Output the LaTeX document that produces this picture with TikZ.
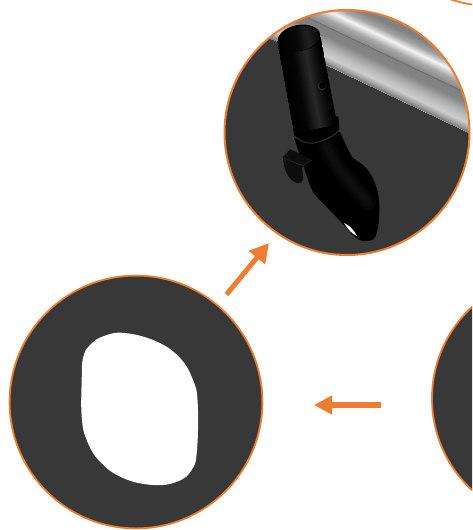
\documentclass[tikz,border=0pt]{standalone}
\usetikzlibrary{arrows.meta}
\definecolor{ringc}{HTML}{ED7D31}
\definecolor{discc}{HTML}{383838}
% painter's gradient: nested rectangles, from the far stop to the near one
\newcommand{\gradientbands}[3]{%
  \foreach \posa/\grya/\posb/\gryb in {#1}{%
    \pgfmathsetmacro{\nsteps}{int(ceil(abs(\posa-\posb)/#2))}%
    \foreach \stepi in {1,...,\nsteps}{%
      \pgfmathsetmacro{\curpos}{\posa+(\posb-\posa)*\stepi/\nsteps}%
      \pgfmathsetmacro{\curgry}{\grya+(\gryb-\grya)*\stepi/\nsteps}%
      \fill[white!\curgry!black] #3;%
    }%
  }%
}
\tikzset{
  disc/.style={circle,fill=discc,inner sep=0pt,outer sep=0pt},
  ringline/.style={draw=ringc,line width=#1},
  flow/.style={draw=ringc,line width=#1},
  glow/.style={draw=white!16!black,line cap=round,opacity=.16},
}
\begin{document}
\begin{tikzpicture}[x=1pt,y=-1pt]
\useasboundingbox (0,0) rectangle (472,530);
\clip (0,0) rectangle (472,530);
\fill[white] (0,0) rectangle (472,530);

% discs
\node[disc,minimum size=245pt] (upper) at (347,132.5) {};
\node[disc,minimum size=253pt] (left) at (136,402) {};
\node[disc,minimum size=250pt] (right) at (557,398.5) {};
\node[circle,inner sep=0pt,outer sep=0pt,minimum size=250pt] (corner) at (491,-119) {};

% scene inside the upper disc
\begin{scope}
\clip (upper.center) circle[radius=122.5pt];
% rail
\begin{scope}[shift={(326.7,65)},rotate=-25.4]
  \gradientbands{100/60/64/50,64/50/56/65,56/65/49.5/96,49.5/96/42/66,42/66/35.5/55,35.5/43/34.5/43,34.5/50/26/52,26/52/19/66,19/66/14/74,14/74/8/81,8/81/3/62,3/62/0/47}{.5}{(-90,-\curpos) rectangle (190,0)}
\end{scope}
% elbow
\fill[black] (294,138) .. controls (298,150) and (303,165) .. (307,177)
  .. controls (310,186) and (312,192) .. (317,197)
  .. controls (325,205) and (345,226) .. (353,235)
  .. controls (358,240) and (363,242) .. (367,241)
  .. controls (373,241) and (376,238) .. (377,232)
  .. controls (379,225) and (380,210) .. (379,200)
  .. controls (378,188) and (372,172) .. (363,165)
  .. controls (358,161) and (355,160) .. (352,157)
  .. controls (348,150) and (345,143) .. (340,132) -- cycle;
\begin{scope}
  \clip (294,138) -- (307,177) -- (317,197) -- (353,235) -- (367,241) -- (377,232) -- (379,200) -- (363,165) -- (352,157) -- (340,132) -- cycle;
  \draw[glow,line width=16pt] (327,147) .. controls (335,165) and (347,180) .. (368,202);
  \draw[glow,line width=10pt] (327,147) .. controls (335,165) and (347,180) .. (368,202);
  \draw[glow,line width=5pt] (327,147) .. controls (335,165) and (347,180) .. (368,202);
\end{scope}
% white sliver on the elbow
\fill[white] (344,223) .. controls (349,225) and (354,230) .. (357,236)
  .. controls (352,234) and (348,229) .. cycle;
% bracket
\fill[black!95!white] (283,157) -- (290,149) -- (312,160) -- (304,165) -- (302,167)
  .. controls (302,172) and (304,178) .. (303,180)
  .. controls (301,184) and (297,184) .. (293,181)
  .. controls (288,178) and (283,168) .. cycle;
\draw[black!85!white,line width=.6pt] (284,158) -- (303,166) -- (312,160);
% tube
\begin{scope}[shift={(299,38)},rotate=10.7]
  \fill[black] (-22.5,87) -- (-23,95) .. controls (-18,103) and (-12,106) .. (-6,107)
    .. controls (5,107) and (17,104) .. (22,99) .. controls (23,94) and (24,90) .. (24,84) -- cycle;
  \draw[black!78!white,line width=.8pt] (-23,95) .. controls (-18,102) and (-12,105) .. (-6,106)
    .. controls (5,106) and (17,103) .. (22,98);
  \begin{scope}
    \clip (-21.5,0) -- (21.5,0) -- (22,92) -- (-22,92) -- cycle;
    \gradientbands{22/0/17/2,17/2/9.5/10,9.5/10/4.3/16,4.3/16/-8.6/2,-8.6/2/-22/0}{.5}{(-23,-2) rectangle (\curpos,93)}
  \end{scope}
  \fill[black] (0,0) ellipse[x radius=21.5pt,y radius=13pt];
  \begin{scope}
    \clip (0,.6) ellipse[x radius=20pt,y radius=11.6pt];
    \gradientbands{21/3/9/13,9/13/-3/3,-3/3/-21/0}{.5}{(-23,-14) rectangle (\curpos,14)}
  \end{scope}
\end{scope}
% hole
\fill[black!85!white] (321.7,86) circle[radius=4.2pt];
\fill[black] (322.3,85.4) circle[radius=3.3pt];
\end{scope}

% rings
\draw[ringline=2pt] (upper.center) circle[radius=122.5pt];
\draw[ringline=1.8pt] (left.center) circle[radius=126.4pt];
\draw[ringline=1.8pt] (right.center) circle[radius=125pt];
\draw[ringline=1.8pt] (corner.center) circle[radius=125pt];

% opening in the left disc
\fill[white] plot[smooth cycle,tension=.7] coordinates {(125,333) (104,336) (90,345) (83,358) (81.7,380) (81.7,416.7) (86.7,440) (100,461.7) (123,478) (153,485) (177,481.7) (191.7,470) (197,450) (197.7,403) (193,380) (180,358) (157,341.7)};

% arrows
\coordinate (a1s) at (226.5,294.5);
\coordinate (a1e) at (269,243);
\coordinate (a2s) at (381,405);
\coordinate (a2e) at (314,405);
\draw[flow=5pt,-{Triangle[length=19pt,width=20pt]}] (a1s) -- (a1e);
\draw[flow=6pt,-{Triangle[length=18pt,width=18pt]}] (a2s) -- (a2e);
\end{tikzpicture}
\end{document}
